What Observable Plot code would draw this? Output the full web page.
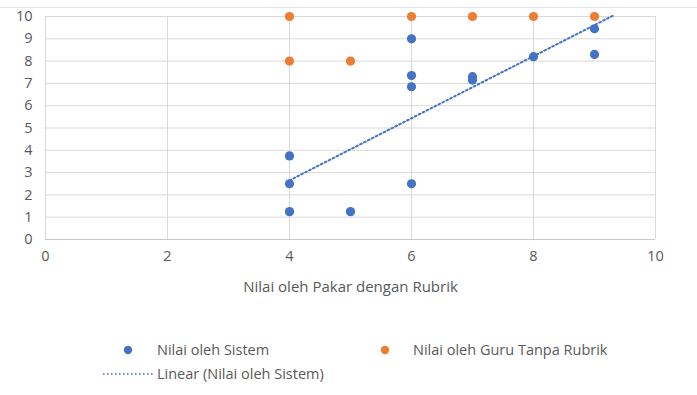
<!DOCTYPE html>
<html>
<head>
<meta charset="utf-8">
<script src="https://cdn.jsdelivr.net/npm/d3@7"></script>
<script src="https://cdn.jsdelivr.net/npm/@observablehq/plot@0.6"></script>
<style>
  body { margin: 0; background: #fff; }
  #wrap { position: relative; width: 697px; height: 395px; font-family: "Open Sans", sans-serif; color: #595959; overflow: hidden; }
  .topline { position: absolute; left: 0; top: 7px; width: 697px; height: 1px; background: #e4e4e4; }
  #chart { position: absolute; left: 0; top: 0; }
  .legtext { position: absolute; font-size: 14.5px; line-height: 20px; height: 20px; white-space: nowrap; }
  .legsym { position: absolute; display: block; }
</style>
</head>
<body>
<div id="wrap">
  <div class="topline"></div>
  <div id="chart"></div>
  <div id="legend"></div>
</div>
<script>
// ---- data ----
const xTicks = [0, 2, 4, 6, 8, 10];
const yTicks = [0, 1, 2, 3, 4, 5, 6, 7, 8, 9, 10];

const seriesNames = ["Nilai oleh Sistem", "Nilai oleh Guru Tanpa Rubrik"];
const trendName = "Linear (Nilai oleh Sistem)";
const xLabel = "Nilai oleh Pakar dengan Rubrik";

// series 1: Nilai oleh Sistem
const systemX = [4, 4, 4, 5, 6, 6, 6, 6, 7, 7, 8, 9, 9];
const systemY = [3.75, 2.5, 1.25, 1.25, 9, 7.35, 6.85, 2.5, 7.3, 7.15, 8.2, 9.45, 8.3];

// series 2: Nilai oleh Guru Tanpa Rubrik
const teacherX = [4, 4, 5, 6, 7, 8, 9];
const teacherY = [10, 8, 8, 10, 10, 10, 10];

// trendline forward forecast (x units)
const trendForward = 0.3;

// ---- styling ----
const colors = ["#4472C4", "#ED7D31"];
const textColor = "#595959";
const gridColor = "#d9d9d9";
const fontFamily = "'Open Sans', sans-serif";

const systemData = systemX.map((x, i) => ({x, y: systemY[i]}));
const teacherData = teacherX.map((x, i) => ({x, y: teacherY[i]}));

// linear regression of the system series
const mx = d3.mean(systemX), my = d3.mean(systemY);
const slope = d3.sum(systemX, (x, i) => (x - mx) * (systemY[i] - my)) / d3.sum(systemX, x => (x - mx) ** 2);
const intercept = my - slope * mx;
const trendData = [d3.min(systemX), d3.max(systemX) + trendForward].map(x => ({x, y: intercept + slope * x}));

const chart = Plot.plot({
  width: 697,
  height: 300,
  marginLeft: 45,
  marginRight: 42,
  marginTop: 16,
  marginBottom: 61,
  style: {fontFamily, fontSize: "14.5px", color: textColor, background: "transparent", overflow: "visible"},
  x: {domain: [0, 10], ticks: xTicks, tickSize: 0, tickPadding: 11, label: null},
  y: {domain: [0, 10], ticks: yTicks, tickSize: 0, tickPadding: 13, label: null},
  marks: [
    Plot.ruleX(xTicks, {stroke: gridColor, strokeWidth: 1}),
    Plot.ruleY(yTicks, {stroke: gridColor, strokeWidth: 1}),
    Plot.ruleY([0], {stroke: "#c8c8c8", strokeWidth: 1}),
    Plot.dot(systemData, {x: "x", y: "y", r: 4.6, fill: colors[0], stroke: null}),
    Plot.dot(teacherData, {x: "x", y: "y", r: 4.6, fill: colors[1], stroke: null}),
    Plot.line(trendData, {x: "x", y: "y", stroke: colors[0], strokeWidth: 2, strokeDasharray: "1.8,2.6", clip: false}),
    Plot.text([xLabel], {text: d => d, frameAnchor: "bottom", dy: 52, fontSize: 15, fill: textColor})
  ]
});
document.getElementById("chart").appendChild(chart);

// ---- legend (HTML below the plot) ----
const legend = document.getElementById("legend");
const legendItems = [
  {name: seriesNames[0], color: colors[0], type: "dot", symX: 128, textX: 157, cy: 350},
  {name: seriesNames[1], color: colors[1], type: "dot", symX: 385, textX: 413, cy: 350},
  {name: trendName, color: colors[0], type: "line", symX: 103, textX: 157, cy: 374}
];
for (const it of legendItems) {
  const sym = document.createElementNS("http://www.w3.org/2000/svg", "svg");
  sym.setAttribute("class", "legsym");
  if (it.type === "dot") {
    sym.setAttribute("width", 12); sym.setAttribute("height", 12);
    sym.style.left = (it.symX - 6) + "px"; sym.style.top = (it.cy - 6) + "px";
    sym.innerHTML = `<circle cx="6" cy="6" r="4.2" fill="${it.color}"/>`;
  } else {
    sym.setAttribute("width", 52); sym.setAttribute("height", 6);
    sym.style.left = it.symX + "px"; sym.style.top = (it.cy - 3) + "px";
    sym.innerHTML = `<line x1="0" y1="3" x2="50" y2="3" stroke="${it.color}" stroke-width="1.6" stroke-dasharray="1.6,2.4"/>`;
  }
  legend.appendChild(sym);
  const t = document.createElement("div");
  t.className = "legtext";
  t.style.left = it.textX + "px";
  t.style.top = (it.cy - 10) + "px";
  t.textContent = it.name;
  legend.appendChild(t);
}
</script>
</body>
</html>
